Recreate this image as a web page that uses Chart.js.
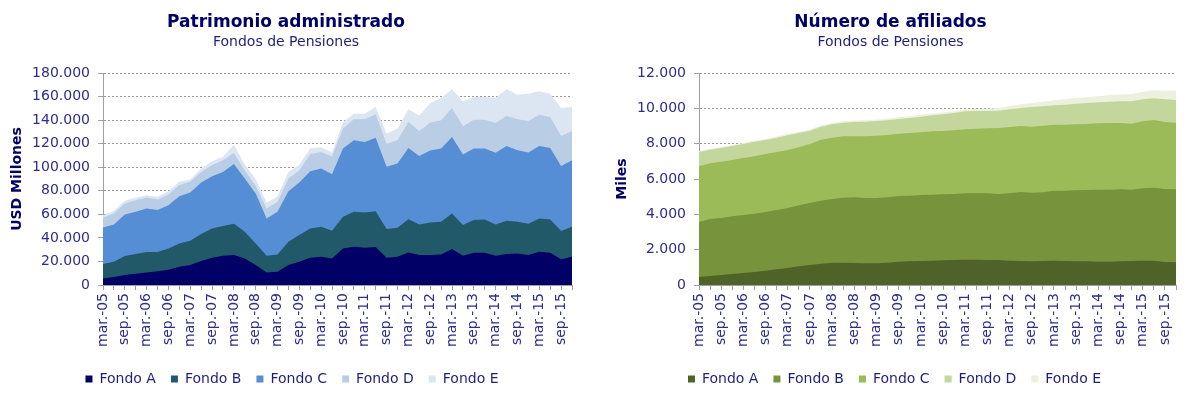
<!DOCTYPE html>
<html><head><meta charset="utf-8">
<script src="https://cdn.jsdelivr.net/npm/chart.js@4"></script>
<style>
html,body{margin:0;padding:0;background:#fff;}
body{width:1204px;height:402px;position:relative;overflow:hidden;}
canvas{position:absolute;top:0;}
#c1{left:0;}
#c2{left:605px;}
</style></head><body>
<canvas id="c1" width="575" height="402" style="width:575px;height:402px"></canvas>
<canvas id="c2" width="577" height="402" style="width:577px;height:402px"></canvas>
<script>
// Categories (quarterly)
const quarters = [
 'mar.-05','jun.-05','sep.-05','dic.-05','mar.-06','jun.-06','sep.-06','dic.-06',
 'mar.-07','jun.-07','sep.-07','dic.-07','mar.-08','jun.-08','sep.-08','dic.-08',
 'mar.-09','jun.-09','sep.-09','dic.-09','mar.-10','jun.-10','sep.-10','dic.-10',
 'mar.-11','jun.-11','sep.-11','dic.-11','mar.-12','jun.-12','sep.-12','dic.-12',
 'mar.-13','jun.-13','sep.-13','dic.-13','mar.-14','jun.-14','sep.-14','dic.-14',
 'mar.-15','jun.-15','sep.-15','dic.-15'];
const fundNames = ['Fondo A','Fondo B','Fondo C','Fondo D','Fondo E'];

// Patrimonio administrado (USD Millones)
const patA = [5600,6800,8500,9600,10700,11600,13000,15500,17000,20300,23200,24900,25400,22600,17000,10700,11300,17000,19800,23200,24000,22600,31000,32500,31600,32200,23200,24000,27700,25400,25400,26000,30500,24900,27400,27400,24900,26300,26800,25400,28300,27400,21800,24000];
const patB = [12200,13000,16100,16700,17300,16400,18000,19800,20600,22900,24800,25100,26600,22600,18300,14200,14700,19700,22600,24800,25400,23400,26900,29700,30000,30500,24300,24600,28200,26000,27700,27700,30200,26000,27700,28300,26500,28200,26900,26600,28200,28300,24000,25400];
const patC = [31100,31600,35300,35900,37000,35600,36800,40100,40900,43800,44400,46000,50800,45200,42400,31600,36200,43000,44600,48600,49600,48000,57900,60700,59900,62400,52800,54500,60500,58200,61000,62100,65000,59800,60700,60100,60800,63600,60700,60400,61600,60700,55300,56500];
const patD = [8100,9300,9300,9800,9300,9000,9000,9400,9100,9000,9300,10000,9200,6800,6500,8500,8400,10700,10500,14400,14000,15000,17000,17800,19200,19800,19700,19800,22000,21200,23800,24000,24600,24100,24600,24600,25400,25400,26300,26900,26500,26300,25500,24900];
const patE = [2300,2300,2300,2000,2000,2300,2900,2800,2000,2900,3300,2800,7000,5100,5700,5100,4300,5600,4800,5000,4000,3500,5600,4800,4800,6200,8500,9900,10800,13200,16600,19000,15800,21200,19200,19200,21400,22600,20900,23100,19800,19700,23700,20300];

// Número de afiliados (Miles)
const afiA = [453,509,566,623,679,736,811,887,962,1057,1132,1208,1264,1264,1245,1227,1227,1264,1321,1340,1359,1378,1396,1415,1434,1434,1415,1415,1378,1359,1340,1359,1378,1359,1340,1340,1321,1321,1340,1359,1378,1378,1302,1283];
const afiB = [3113,3227,3227,3264,3284,3302,3322,3359,3397,3453,3510,3566,3604,3680,3718,3698,3698,3699,3717,3717,3736,3736,3737,3737,3755,3755,3774,3737,3811,3906,3887,3887,3962,3981,4019,4038,4076,4076,4076,4038,4094,4132,4133,4133];
const afiC = [3152,3152,3189,3189,3226,3246,3283,3283,3283,3283,3340,3453,3473,3472,3453,3491,3529,3529,3529,3548,3547,3585,3585,3604,3623,3661,3680,3736,3755,3736,3736,3774,3736,3736,3736,3736,3755,3774,3755,3736,3793,3831,3792,3774];
const afiD = [811,773,774,793,793,830,792,812,831,812,755,736,754,774,811,830,830,830,830,849,887,906,943,981,1019,1000,981,981,1000,1019,1114,1094,1095,1133,1170,1189,1189,1208,1226,1264,1246,1226,1284,1283];
const afiE = [40,45,50,55,55,60,60,65,70,70,70,75,75,80,80,85,90,95,100,100,105,100,100,100,105,110,120,150,185,210,230,260,285,300,315,330,345,370,390,410,430,455,490,530];

const blueColors = ['#000066','#215968','#558ED5','#B9CDE5','#DCE6F2'];
const greenColors = ['#4F6228','#77933C','#9BBB59','#C3D69B','#EBF1DE'];

Chart.defaults.font.family = "'DejaVu Sans', Verdana, sans-serif";
const titleColor = '#000066';
const tickColor = '#2d2d8a';
const axisGray = '#a0a0a0';

function fmt(v){ return String(v).replace(/\B(?=(\d{3})+(?!\d))/g,'.'); }

function makeChart(id, title, yTitle, series, colors, yMax, yStep, yWidth, padRight, legendShift){
  const datasets = series.map((d,i)=>({
    label: fundNames[i], data: d,
    backgroundColor: colors[i], borderColor: colors[i],
    borderWidth: 0, pointRadius: 0, pointHoverRadius: 0,
    fill: 'origin', tension: 0
  }));
  const shiftLegend = {
    id: 'shiftLegend',
    afterLayout(chart){
      if (chart.legend){ chart.legend.left += legendShift; chart.legend.right += legendShift; }
    }
  };
  return new Chart(document.getElementById(id), {
    type: 'line',
    data: { labels: quarters, datasets },
    plugins: [shiftLegend],
    options: {
      responsive: false, animation: false, devicePixelRatio: 1,
      layout: { padding: { left: 0, right: padRight, top: 0, bottom: 6 } },
      interaction: { mode: null },
      plugins: {
        tooltip: { enabled: false },
        title: { display: true, text: title, color: titleColor,
          font: { size: 17, weight: 'bold' }, padding: { top: 12, bottom: 0 } },
        subtitle: { display: true, text: 'Fondos de Pensiones', color: '#1f1f78',
          font: { size: 14 }, padding: { top: 2, bottom: 21.8 } },
        legend: { position: 'bottom',
          labels: { boxWidth: 7, boxHeight: 7, padding: 15, color: '#1f1f78', font: { size: 14 } } }
      },
      scales: {
        x: {
          offset: false,
          grid: { display: true, drawOnChartArea: false, drawTicks: true, tickLength: 5,
                  tickColor: axisGray, tickBorderDash: [] },
          border: { display: true, color: axisGray },
          ticks: { autoSkip: false, maxRotation: 90, minRotation: 90, padding: 3,
                   color: tickColor, font: { size: 14 },
                   callback: function(v, i){ return i % 2 === 0 ? this.getLabelForValue(v) : ''; } },
          afterFit: s => { s.height = 72; s.paddingLeft = 0; s.paddingRight = 0; }
        },
        y: {
          stacked: true, min: 0, max: yMax,
          grid: { color: '#9a9a9a', tickLength: 5, tickColor: axisGray, tickBorderDash: [] },
          border: { display: true, color: axisGray, dash: [2,2] },
          ticks: { stepSize: yStep, padding: 8, color: tickColor, font: { size: 14 },
                   callback: v => fmt(v) },
          title: { display: true, text: yTitle, color: titleColor,
                   font: { size: 14, weight: 'bold' }, padding: { top: 8.6, bottom: 0 } },
          afterFit: s => { s.width = yWidth; s.paddingTop = 0; s.paddingBottom = 0; }
        }
      }
    }
  });
}

makeChart('c1', 'Patrimonio administrado', 'USD Millones',
  [patA, patB, patC, patD, patE], blueColors, 180000, 20000, 103, 3, 6);
makeChart('c2', 'Número de afiliados', 'Miles',
  [afiA, afiB, afiC, afiD, afiE], greenColors, 12000, 2000, 94, 6, 4);
</script>
</body></html>
